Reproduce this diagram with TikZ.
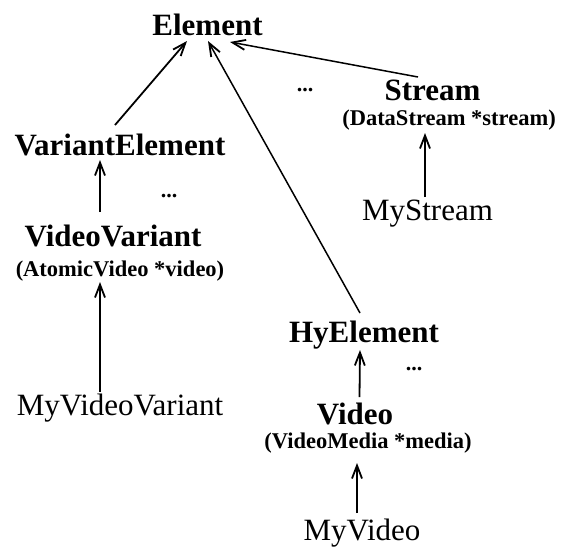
\documentclass[tikz,border=0pt]{standalone}
\usepackage{fontspec}
\setmainfont{Liberation Serif}
\usetikzlibrary{arrows.meta}
\begin{document}
\begin{tikzpicture}[x=1pt,y=-1pt,
  cls/.style={inner sep=0pt,anchor=base,font=\fontsize{31}{31}\selectfont\bfseries},
  leaf/.style={inner sep=0pt,anchor=base,font=\fontsize{31}{31}\selectfont},
  attr/.style={inner sep=0pt,anchor=base,font=\fontsize{22.5}{22.5}\selectfont\bfseries},
  more/.style={inner sep=0pt,anchor=base,font=\fontsize{22}{22}\selectfont\bfseries},
  arr/.style={line width=1.8pt,-{Straight Barb[length=13pt,width=10pt,line width=1.8pt]}},
  thin arr/.style={line width=1.5pt,-{Straight Barb[length=13pt,width=10pt,line width=1.8pt]}}]
\useasboundingbox (0,0) rectangle (564,550);

% class hierarchy
\node[cls]  (el)   at (207.5,35)  {Element};
\node[cls]  (ve)   at (120,155)   {VariantElement};
\node[cls]  (vv)   at (113,246)   {VideoVariant};
\node[attr] (vva)  at (120,276)   {(AtomicVideo *video)};
\node[leaf] (myvv) at (120,415)   {MyVideoVariant};
\node[cls]  (st)   at (432.5,100) {Stream};
\node[attr] (sta)  at (449,125)   {(DataStream *stream)};
\node[leaf] (myst) at (427.5,220) {MyStream};
\node[cls]  (hy)   at (364,342)   {HyElement};
\node[cls]  (vi)   at (355,424)   {Video};
\node[attr] (via)  at (368,448)   {(VideoMedia *media)};
\node[leaf] (myvi) at (362,540)   {MyVideo};

% further subclasses not shown
\node[more] (m1) at (305,91)  {...};
\node[more] (m2) at (169,197) {...};
\node[more] (m3) at (414,370) {...};

% inheritance arrows
\draw[arr] ([shift={(-5,-30)}]ve.base) -- ([shift={(-20.5,6)}]el.base);
\draw[thin arr] ([shift={(-4,-29)}]hy.base) -- ([shift={(0.5,6)}]el.base);
\draw[thin arr] ([shift={(-14.5,-23)}]st.base) -- ([shift={(22.5,7)}]el.base);
\draw[arr] ([shift={(-13,-34)}]vv.base) -- ([shift={(-20,5)}]ve.base);
\draw[arr] ([shift={(-20,-23)}]myvv.base) -- ([shift={(-20,6)}]vva.base);
\draw[arr] ([shift={(-2.5,-23)}]myst.base) -- ([shift={(-24,8)}]sta.base);
\draw[arr] ([shift={(4.5,-27)}]vi.base) -- ([shift={(-4,8)}]hy.base);
\draw[arr] ([shift={(-5,-27)}]myvi.base) -- ([shift={(-11,15)}]via.base);
\end{tikzpicture}
\end{document}
